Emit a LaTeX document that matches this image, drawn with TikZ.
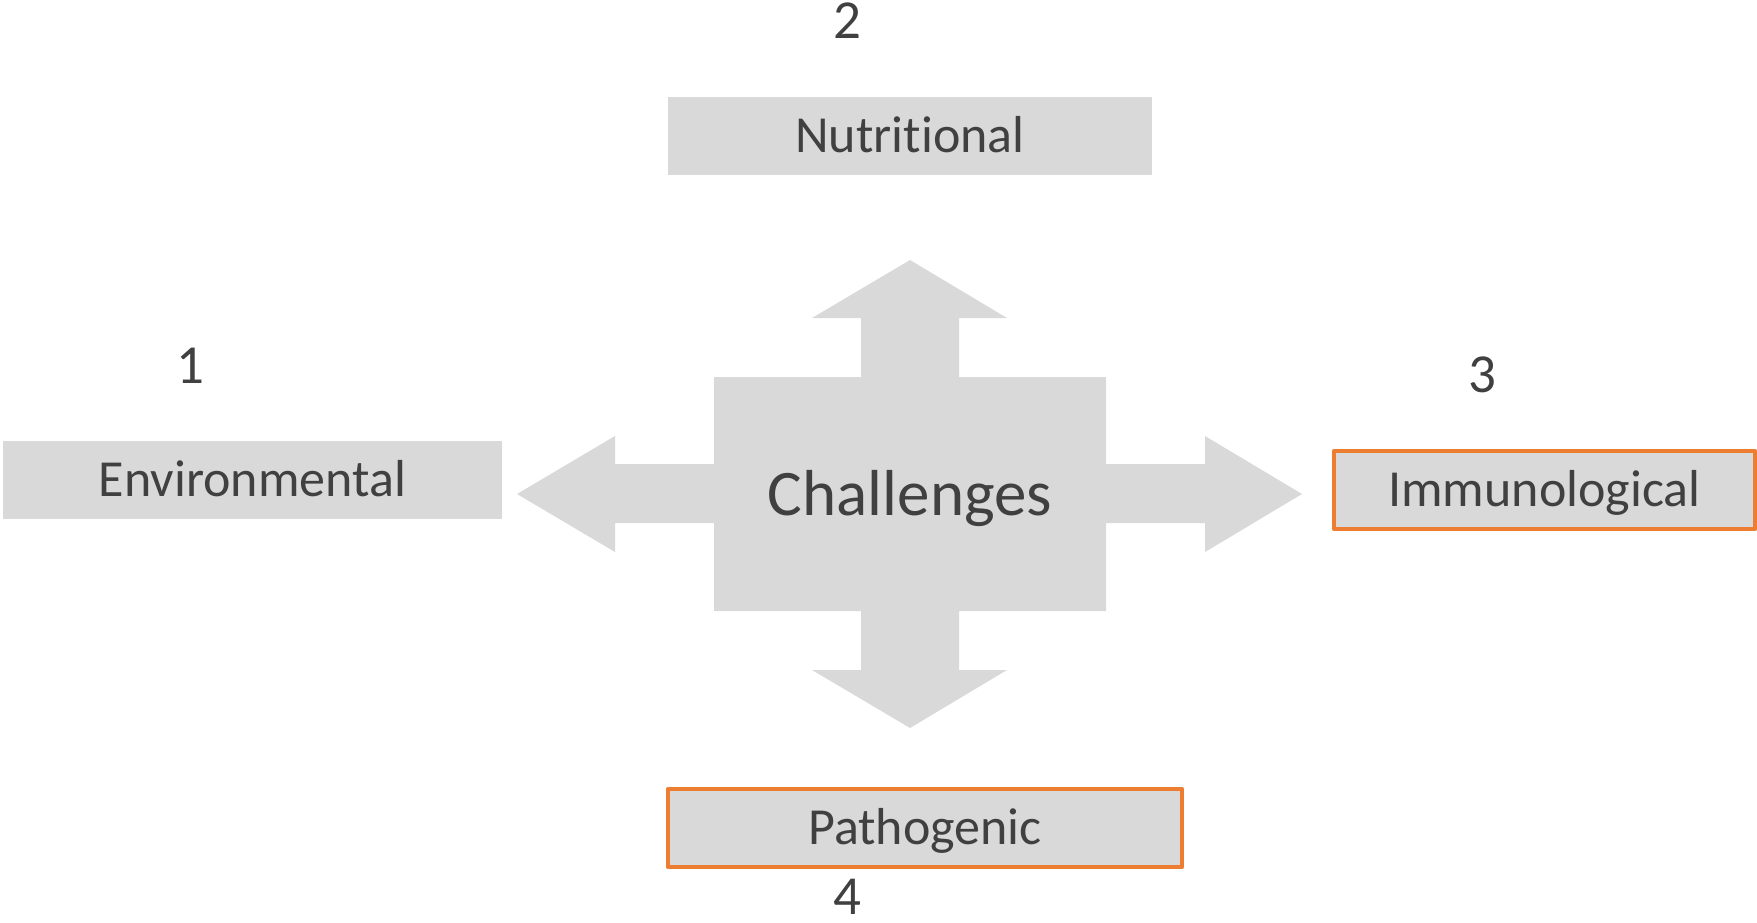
\documentclass[tikz,border=0pt]{standalone}
\usepackage{fontspec}
\setmainfont[Ligatures=NoCommon]{Carlito}
\definecolor{boxgray}{HTML}{D9D9D9}
\definecolor{txtgray}{HTML}{404040}
\definecolor{accent}{HTML}{ED7D31}
\begin{document}
\begin{tikzpicture}[x=1pt,y=-1pt,
  catbox/.style={fill=boxgray, draw=none, inner sep=0pt, text=txtgray,
    font=\fontsize{52}{60}\selectfont, text height=33.5pt, text depth=0pt},
  hlbox/.style={catbox, draw=accent, line width=4.5pt, line join=round},
  numlabel/.style={text=txtgray, inner sep=0pt, anchor=base,
    font=\fontsize{55}{60}\selectfont}]
\useasboundingbox (0,0) rectangle (1757,922);
% cross-shaped arrow
\fill[boxgray] (910,260) -- (1007,318) -- (959,318) -- (959,377) -- (1106,377) -- (1106,464)
  -- (1205,464) -- (1205,436) -- (1302,494) -- (1205,552) -- (1205,523) -- (1106,523)
  -- (1106,611) -- (959,611) -- (959,670) -- (1007,670) -- (910,728) -- (812,670)
  -- (861,670) -- (861,611) -- (714,611) -- (714,523) -- (615,523) -- (615,552)
  -- (517,494) -- (615,436) -- (615,464) -- (714,464) -- (714,377) -- (861,377)
  -- (861,318) -- (812,318) -- cycle;
\node[text=txtgray, inner sep=0pt, font=\fontsize{65}{70}\selectfont,
  text height=42pt, text depth=0pt] (chal) at (910,494.5) {Challenges};
% boxes
\node[catbox, minimum width=484pt, minimum height=78pt] (nut) at (910,136) {Nutrit\kern0pt ional};
\node[catbox, minimum width=499pt, minimum height=78pt] (env) at (252.5,480) {Environmental};
\node[hlbox, minimum width=421pt, minimum height=78pt] (imm) at (1544.5,490) {Immunological};
\node[hlbox, minimum width=514pt, minimum height=78pt] (pat) at (925,828) {Pathogenic};
% numbers
\node[numlabel] (n1) at (190,383) {1};
\node[numlabel] (n2) at (847,38) {2};
\node[numlabel] (n3) at (1482,392) {3};
\node[numlabel] (n4) at (847,914) {4};
\end{tikzpicture}
\end{document}
